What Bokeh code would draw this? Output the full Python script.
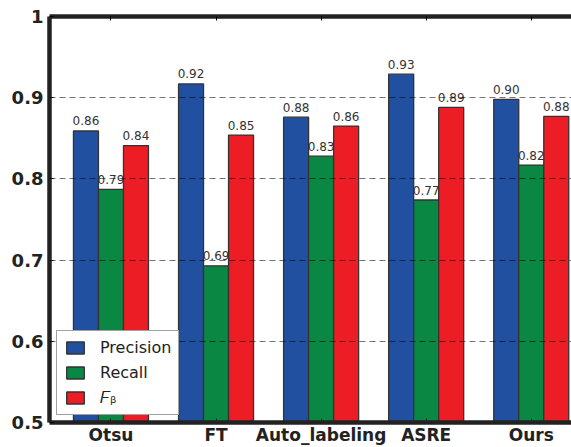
from bokeh.plotting import figure
from bokeh.models import ColumnDataSource, FixedTicker, LinearAxis, Legend, LegendItem, Range1d
from bokeh.core.properties import value
from bokeh.embed import file_html
from bokeh.resources import INLINE

methods = ["Otsu", "FT", "Auto_labeling", "ASRE", "Ours"]
precision = [0.859, 0.917, 0.876, 0.929, 0.898]
recall = [0.787, 0.693, 0.828, 0.774, 0.817]
fbeta = [0.841, 0.854, 0.865, 0.888, 0.877]
series_names = ["Precision", "Recall", "𝐹ᵦ"]
colors = ["#2150a1", "#0a8843", "#ec1d25"]
y_ticks = [0.5, 0.6, 0.7, 0.8, 0.9, 1.0]
y_tick_labels = ["0.5", "0.6", "0.7", "0.8", "0.9", "1"]

bar_w = 0.238
offsets = [-bar_w, 0.0, bar_w]

p = figure(width=571, height=447, output_backend="svg", toolbar_location=None,
           x_range=Range1d(-0.585, 4.383), y_range=Range1d(0.5, 1.0),
           min_border_left=49, min_border_top=16, min_border_right=0, min_border_bottom=21)
p.outline_line_color = None
p.background_fill_color = "white"
p.border_fill_color = "white"

idx = list(range(len(methods)))
renderers = []
for vals, off, col in zip([precision, recall, fbeta], offsets, colors):
    src = ColumnDataSource(dict(x=[i + off for i in idx], top=vals,
                                lab=["%.2f" % v for v in vals]))
    r = p.vbar(x="x", top="top", bottom=0.5, width=bar_w, source=src,
               fill_color=col, line_color="#333333", line_width=1.3)
    renderers.append(r)
    p.text(x="x", y="top", text="lab", source=src, text_align="center",
           text_baseline="alphabetic", y_offset=-10,
           text_font=value("DejaVu Sans"), text_font_size="12px", text_color="#333333")

# axes
xa = p.xaxis[0]
xa.ticker = FixedTicker(ticks=idx)
xa.major_label_overrides = {i: m for i, m in zip(idx, methods)}
xa.major_label_text_font = "DejaVu Sans"
xa.major_label_text_font_style = "bold"
xa.major_label_text_font_size = "17px"
xa.major_label_text_color = "#222222"
xa.major_label_standoff = 2
xa.axis_line_width = 4.5
xa.axis_line_color = "#222222"
xa.major_tick_in = 4
xa.major_tick_out = 0
xa.major_tick_line_color = "#222222"
xa.minor_tick_line_color = None

ya = p.yaxis[0]
ya.ticker = FixedTicker(ticks=y_ticks)
ya.major_label_overrides = {t: l for t, l in zip(y_ticks, y_tick_labels)}
ya.major_label_text_font = "DejaVu Sans"
ya.major_label_text_font_style = "bold"
ya.major_label_text_font_size = "18px"
ya.major_label_text_color = "#222222"
ya.major_label_standoff = 6
ya.axis_line_width = 4.5
ya.axis_line_color = "#222222"
ya.major_tick_in = 4
ya.major_tick_out = 0
ya.minor_tick_line_color = None

top_axis = LinearAxis(ticker=FixedTicker(ticks=idx), axis_line_width=4.5, axis_line_color="#222222",
                      major_tick_in=4, major_tick_out=0, minor_tick_line_color=None,
                      major_label_overrides={i: "" for i in idx}, major_label_standoff=0)
p.add_layout(top_axis, "above")

p.xgrid.grid_line_color = None
p.ygrid.ticker = FixedTicker(ticks=y_ticks[1:-1])
p.ygrid.grid_line_color = "black"
p.ygrid.grid_line_alpha = 0.55
p.ygrid.grid_line_dash = "6 4"
p.ygrid.grid_line_width = 1.2
p.ygrid.level = "overlay"

legend = Legend(items=[LegendItem(label=n, renderers=[r]) for n, r in zip(series_names, renderers)],
                location="bottom_left", margin=7, padding=7, spacing=6,
                glyph_width=22, glyph_height=15, label_height=15, label_standoff=14,
                label_text_font="DejaVu Sans", label_text_font_size="16px",
                label_text_color="#222222", border_line_color="#444444", border_line_width=1.3,
                background_fill_color="white", background_fill_alpha=1.0)
p.add_layout(legend, "center")

open("out.html", "w").write(file_html(p, INLINE))
